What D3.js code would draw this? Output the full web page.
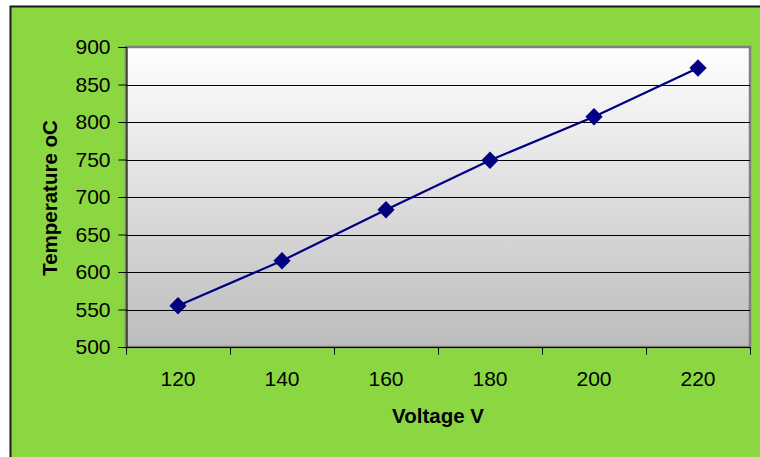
<!DOCTYPE html>
<html>
<head>
<meta charset="utf-8">
<script src="https://cdn.jsdelivr.net/npm/d3@7"></script>
<style>
  html, body { margin: 0; padding: 0; background: #ffffff; }
  svg { display: block; }
  text { font-family: "Liberation Sans", Arial, sans-serif; fill: #000; }
</style>
</head>
<body>
<svg id="chart" width="760" height="457"></svg>
<script>
// Measured temperature of the element against supply voltage
const voltages = ["120", "140", "160", "180", "200", "220"];
const temperatures = [555, 615, 683, 749, 807, 872];
const yTicks = [500, 550, 600, 650, 700, 750, 800, 850, 900];
const xTitle = "Voltage V";
const yTitle = "Temperature oC";

const svg = d3.select("#chart");
const W = 760, H = 457;
const plot = { left: 126, top: 47, right: 750, bottom: 347 };

// Outer chart frame
svg.append("rect")
  .attr("x", 10.5).attr("y", 6.5)
  .attr("width", W + 10).attr("height", H + 10)
  .attr("fill", "#8bd742")
  .attr("stroke", "#1a1a1a").attr("stroke-width", 2);

// Plot-area gradient: white at top fading to grey
const defs = svg.append("defs");
const grad = defs.append("linearGradient")
  .attr("id", "plotFill").attr("x1", 0).attr("y1", 0).attr("x2", 0).attr("y2", 1);
grad.append("stop").attr("offset", "0%").attr("stop-color", "#ffffff");
grad.append("stop").attr("offset", "100%").attr("stop-color", "#bcbcbc");

const x = d3.scaleBand().domain(voltages).range([plot.left, plot.right]).padding(0);
const y = d3.scaleLinear().domain([500, 900]).range([plot.bottom, plot.top]);

svg.append("rect")
  .attr("x", plot.left).attr("y", plot.top)
  .attr("width", plot.right - plot.left).attr("height", plot.bottom - plot.top)
  .attr("fill", "url(#plotFill)")
  .attr("stroke", "#808080").attr("stroke-width", 2.5);

// Horizontal gridlines
svg.append("g")
  .selectAll("line")
  .data(yTicks.filter(v => v > 500 && v < 900))
  .join("line")
  .attr("x1", plot.left).attr("x2", plot.right)
  .attr("y1", d => Math.round(y(d)) + 0.5).attr("y2", d => Math.round(y(d)) + 0.5)
  .attr("stroke", "#000").attr("stroke-width", 1);

// Y axis
const yAxis = svg.append("g")
  .attr("transform", `translate(${plot.left + 0.5},0)`)
  .call(d3.axisLeft(y).tickValues(yTicks).tickSize(8).tickPadding(8).tickFormat(d3.format("d")));
yAxis.select(".domain").attr("stroke", "#000");
yAxis.selectAll(".tick line").attr("stroke", "#000");
yAxis.selectAll("text").attr("font-size", 21).attr("font-family", "Liberation Sans, Arial, sans-serif");

// X axis: category ticks sit on band boundaries, labels at band centres
const xAxisG = svg.append("g").attr("transform", `translate(0,${plot.bottom + 0.5})`);
xAxisG.append("line")
  .attr("x1", plot.left).attr("x2", plot.right + 1)
  .attr("stroke", "#000");
const bounds = voltages.map(v => x(v)).concat([x(voltages[voltages.length - 1]) + x.bandwidth()]);
xAxisG.selectAll("line.tk")
  .data(bounds)
  .join("line").attr("class", "tk")
  .attr("x1", d => Math.round(d) + 0.5).attr("x2", d => Math.round(d) + 0.5)
  .attr("y1", 0).attr("y2", 7)
  .attr("stroke", "#000");
xAxisG.selectAll("text")
  .data(voltages)
  .join("text")
  .attr("x", d => x(d) + x.bandwidth() / 2)
  .attr("y", 38)
  .attr("text-anchor", "middle")
  .attr("font-size", 21)
  .text(d => d);

// Data line
const line = d3.line()
  .x((d, i) => x(voltages[i]) + x.bandwidth() / 2)
  .y(d => y(d));
svg.append("path")
  .datum(temperatures)
  .attr("d", line)
  .attr("fill", "none")
  .attr("stroke", "#000080").attr("stroke-width", 2.2);

// Diamond markers
const diamond = d3.symbol().type(d3.symbolDiamond2).size(190);
svg.append("g")
  .selectAll("path")
  .data(temperatures)
  .join("path")
  .attr("transform", (d, i) => `translate(${x(voltages[i]) + x.bandwidth() / 2},${y(d)})`)
  .attr("d", diamond)
  .attr("fill", "#000080");

// Axis titles
svg.append("text")
  .attr("x", 438).attr("y", 423)
  .attr("text-anchor", "middle")
  .attr("font-size", 20.5).attr("font-weight", "bold")
  .text(xTitle);
svg.append("text")
  .attr("transform", "translate(57,198) rotate(-90)")
  .attr("text-anchor", "middle")
  .attr("font-size", 20.5).attr("font-weight", "bold")
  .text(yTitle);
</script>
</body>
</html>
